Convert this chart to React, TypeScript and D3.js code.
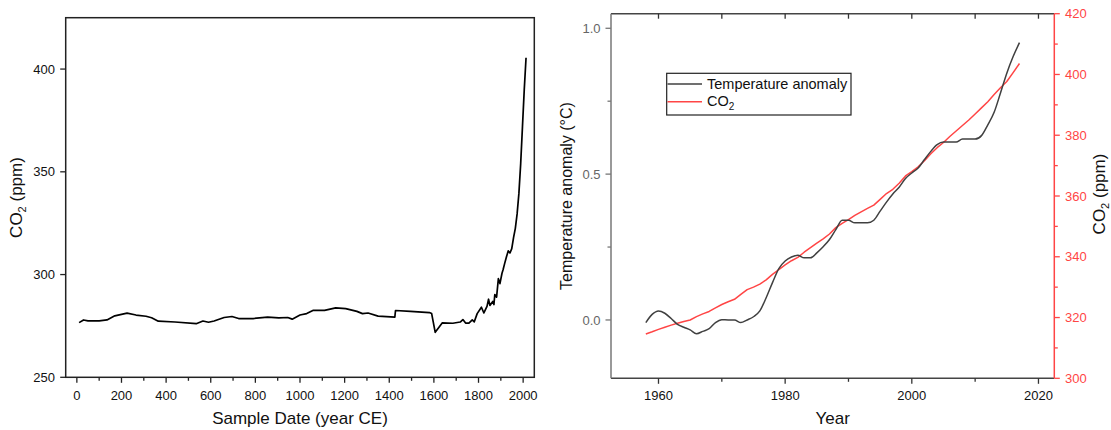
import React from 'react';
import * as d3 from 'd3';

// ---- Left chart: ice-core + modern CO2 (ppm) ----
const iceYears = [10, 30, 50, 100, 135, 170, 225, 265, 310, 335, 365, 440, 535, 565, 590, 615, 660, 695, 725, 790, 855, 905, 945, 965, 1000, 1030, 1060, 1110, 1160, 1205, 1255, 1280, 1305, 1350, 1425, 1428, 1495, 1580, 1590, 1606, 1638, 1685, 1718, 1730, 1742, 1757, 1772, 1781, 1794, 1813, 1824, 1838, 1845, 1851, 1864, 1869, 1873, 1881, 1889, 1896, 1905, 1910, 1917, 1925, 1933, 1941, 1949, 1957, 1965, 1973, 1981, 1989, 1997, 2005, 2013];
const iceCO2 = [276.6, 277.9, 277.5, 277.5, 277.9, 279.9, 281.2, 280.3, 279.7, 279.0, 277.3, 276.9, 276.1, 277.4, 276.8, 277.4, 279.1, 279.6, 278.6, 278.6, 279.3, 278.9, 279.1, 278.3, 280.3, 281.0, 282.6, 282.6, 283.8, 283.4, 282.1, 281.0, 281.3, 279.8, 279.3, 282.5, 282.1, 281.5, 281.0, 271.9, 276.5, 276.3, 276.9, 278.1, 276.4, 276.4, 277.9, 277.0, 281.0, 284.1, 281.3, 284.5, 288.0, 285.0, 286.9, 285.4, 290.3, 289.0, 298.0, 295.6, 300.5, 302.3, 305.3, 308.5, 311.5, 310.5, 312.6, 318.0, 322.5, 329.5, 339.5, 354.0, 372.0, 390.0, 405.5];
const leftXTicks = [0, 200, 400, 600, 800, 1000, 1200, 1400, 1600, 1800, 2000];
const leftXMinor = [100, 300, 500, 700, 900, 1100, 1300, 1500, 1700, 1900];
const leftYTicks = [250, 300, 350, 400];

// ---- Right chart: temperature anomaly and CO2 ----
const years = [1958, 1959, 1960, 1961, 1962, 1963, 1964, 1965, 1966, 1967, 1968, 1969, 1970, 1971, 1972, 1973, 1974, 1975, 1976, 1977, 1978, 1979, 1980, 1981, 1982, 1983, 1984, 1985, 1986, 1987, 1988, 1989, 1990, 1991, 1992, 1993, 1994, 1995, 1996, 1997, 1998, 1999, 2000, 2001, 2002, 2003, 2004, 2005, 2006, 2007, 2008, 2009, 2010, 2011, 2012, 2013, 2014, 2015, 2016, 2017];
const tempAnomaly = [-0.009, 0.019, 0.031, 0.023, 0.005, -0.015, -0.025, -0.034, -0.047, -0.039, -0.030, -0.009, 0.001, 0.0, 0.0, -0.009, 0.0, 0.011, 0.031, 0.076, 0.128, 0.176, 0.202, 0.216, 0.222, 0.213, 0.213, 0.230, 0.251, 0.276, 0.310, 0.342, 0.342, 0.333, 0.333, 0.333, 0.342, 0.373, 0.404, 0.432, 0.455, 0.485, 0.504, 0.521, 0.550, 0.578, 0.601, 0.610, 0.610, 0.610, 0.620, 0.620, 0.620, 0.632, 0.669, 0.712, 0.778, 0.846, 0.903, 0.951];
const co2 = [314.6, 315.3, 316.1, 316.8, 317.5, 318.1, 318.7, 319.2, 320.3, 321.2, 322.0, 323.2, 324.3, 325.2, 326.0, 327.6, 329.2, 330.0, 331.0, 332.4, 334.2, 335.8, 337.3, 338.7, 339.8, 341.5, 343.0, 344.5, 345.9, 347.5, 349.6, 351.0, 352.2, 353.6, 354.8, 355.9, 357.0, 358.9, 360.8, 362.2, 364.2, 366.6, 368.0, 369.6, 371.6, 373.9, 375.9, 377.6, 379.6, 381.4, 383.2, 385.0, 387.0, 389.0, 391.0, 393.4, 395.6, 397.7, 400.6, 403.6];
const rightXTicks = [1960, 1980, 2000, 2020];
const rightXMinor = [1970, 1990, 2010];
const tempTicks = [0.0, 0.5, 1.0];
const tempMinor = [0.25, 0.75];
const co2Ticks = [300, 320, 340, 360, 380, 400, 420];
const co2Minor = [310, 330, 350, 370, 390, 410];

const FONT = '"Liberation Sans", Arial, Helvetica, sans-serif';
const RED = '#ff4545';

export default function App() {
  // left scales
  const lx = d3.scaleLinear().domain([-50, 2050]).range([65.7, 534.3]);
  const ly = d3.scaleLinear().domain([250, 425]).range([377.3, 17.7]);
  const iceLine = d3.line<number>()
    .x((_, i) => lx(iceYears[i]))
    .y((d) => ly(d));

  // right scales
  const rx = d3.scaleLinear().domain([1952.5, 2022.5]).range([611, 1054.3]);
  const ty = d3.scaleLinear().domain([-0.2, 1.05]).range([378.3, 13.7]);
  const cy = d3.scaleLinear().domain([300, 420]).range([378.3, 13.7]);
  const tempLine = d3.line<number>()
    .x((_, i) => rx(years[i]))
    .y((d) => ty(d))
    .curve(d3.curveMonotoneX);
  const co2Line = d3.line<number>()
    .x((_, i) => rx(years[i]))
    .y((d) => cy(d));

  const [lx0, lx1] = lx.range();
  const [ly0, ly1] = ly.range();
  const [rx0, rx1] = rx.range();
  const [ry0, ry1] = ty.range();

  return (
    <svg width={1111} height={430} style={{ position: 'absolute', left: 0, top: 0, background: '#fff' }} fontFamily={FONT}>
      <rect x={0} y={0} width={1111} height={430} fill="#fff" />
      {/* ================= LEFT CHART ================= */}
      <path d={iceLine(iceCO2) || ''} fill="none" stroke="#000" strokeWidth={1.7} strokeLinejoin="round" />
      <rect x={lx0} y={ly1} width={lx1 - lx0} height={ly0 - ly1} fill="none" stroke="#222" strokeWidth={1.5} />
      {leftXTicks.map((t) => (
        <g key={'lxt' + t}>
          <line x1={lx(t)} x2={lx(t)} y1={ly0} y2={ly0 + 5.5} stroke="#222" strokeWidth={1.3} />
          <text x={lx(t)} y={399.5} textAnchor="middle" fontSize={13} fill="#111">{t}</text>
        </g>
      ))}
      {leftXMinor.map((t) => (
        <line key={'lxm' + t} x1={lx(t)} x2={lx(t)} y1={ly0} y2={ly0 + 3.5} stroke="#222" strokeWidth={1.3} />
      ))}
      {leftYTicks.map((t) => (
        <g key={'lyt' + t}>
          <line x1={lx0 - 5.5} x2={lx0} y1={ly(t)} y2={ly(t)} stroke="#222" strokeWidth={1.3} />
          <text x={55} y={ly(t)} dy="0.36em" textAnchor="end" fontSize={13} fill="#111">{t}</text>
        </g>
      ))}
      <text x={(lx0 + lx1) / 2} y={424} textAnchor="middle" fontSize={17} fill="#111">Sample Date (year CE)</text>
      <text transform={`translate(21.5, ${(ly0 + ly1) / 2}) rotate(-90)`} textAnchor="middle" fontSize={17} fill="#111">
        CO<tspan fontSize={11} dy={4}>2</tspan><tspan dy={-4}> (ppm)</tspan>
      </text>

      {/* ================= RIGHT CHART ================= */}
      <path d={co2Line(co2) || ''} fill="none" stroke={RED} strokeWidth={1.5} strokeLinejoin="round" />
      <path d={tempLine(tempAnomaly) || ''} fill="none" stroke="#404040" strokeWidth={1.5} strokeLinejoin="round" />

      {/* top frame */}
      <line x1={rx0} x2={rx1} y1={ry1} y2={ry1} stroke="#444" strokeWidth={1.5} />
      {[...rightXTicks, ...rightXMinor].map((t) => (
        <line key={'rtt' + t} x1={rx(t)} x2={rx(t)} y1={ry1} y2={ry1 + 5} stroke="#333" strokeWidth={1.3} />
      ))}
      {/* bottom axis */}
      <line x1={rx0} x2={rx1} y1={ry0} y2={ry0} stroke="#444" strokeWidth={1.5} />
      {rightXTicks.map((t) => (
        <g key={'rxt' + t}>
          <line x1={rx(t)} x2={rx(t)} y1={ry0} y2={ry0 + 5.5} stroke="#333" strokeWidth={1.3} />
          <text x={rx(t)} y={400} textAnchor="middle" fontSize={13} fill="#111">{t}</text>
        </g>
      ))}
      {rightXMinor.map((t) => (
        <line key={'rxm' + t} x1={rx(t)} x2={rx(t)} y1={ry0} y2={ry0 + 3.5} stroke="#333" strokeWidth={1.3} />
      ))}
      {/* left axis (temperature) */}
      <line x1={rx0} x2={rx0} y1={ry0} y2={ry1} stroke="#777" strokeWidth={1.5} />
      {tempTicks.map((t) => (
        <g key={'tt' + t}>
          <line x1={rx0 - 5.5} x2={rx0} y1={ty(t)} y2={ty(t)} stroke="#777" strokeWidth={1.3} />
          <text x={600.5} y={ty(t)} dy="0.36em" textAnchor="end" fontSize={13} fill="#666">{t.toFixed(1)}</text>
        </g>
      ))}
      {tempMinor.map((t) => (
        <line key={'tm' + t} x1={rx0 - 3.5} x2={rx0} y1={ty(t)} y2={ty(t)} stroke="#777" strokeWidth={1.3} />
      ))}
      {/* right axis (CO2) */}
      <line x1={rx1} x2={rx1} y1={ry0} y2={ry1} stroke={RED} strokeWidth={1.5} />
      {co2Ticks.map((t) => (
        <g key={'ct' + t}>
          <line x1={rx1} x2={rx1 + 5.5} y1={cy(t)} y2={cy(t)} stroke={RED} strokeWidth={1.3} />
          <text x={1065} y={cy(t)} dy="0.36em" textAnchor="start" fontSize={13} fill={RED}>{t}</text>
        </g>
      ))}
      {co2Minor.map((t) => (
        <line key={'cm' + t} x1={rx1} x2={rx1 + 3.5} y1={cy(t)} y2={cy(t)} stroke={RED} strokeWidth={1.3} />
      ))}
      {/* titles */}
      <text x={(rx0 + rx1) / 2} y={424} textAnchor="middle" fontSize={17} fill="#111">Year</text>
      <text transform={`translate(571.5, ${(ry0 + ry1) / 2}) rotate(-90)`} textAnchor="middle" fontSize={16} fill="#111">Temperature anomaly (°C)</text>
      <text transform={`translate(1104.5, ${(ry0 + ry1) / 2 - 2}) rotate(-90)`} textAnchor="middle" fontSize={17} fill="#111">
        CO<tspan fontSize={11} dy={4}>2</tspan><tspan dy={-4}> (ppm)</tspan>
      </text>

      {/* legend */}
      <rect x={666.7} y={73.3} width={184.3} height={41.7} fill="#fff" stroke="#222" strokeWidth={1.2} />
      <line x1={667.5} x2={702} y1={84} y2={84} stroke="#404040" strokeWidth={1.5} />
      <text x={707} y={88.8} fontSize={14.5} fill="#111">Temperature anomaly</text>
      <line x1={667.5} x2={702} y1={101.7} y2={101.7} stroke={RED} strokeWidth={1.5} />
      <text x={707} y={106.3} fontSize={14.5} fill="#111">
        CO<tspan fontSize={10} dy={4}>2</tspan>
      </text>
    </svg>
  );
}
